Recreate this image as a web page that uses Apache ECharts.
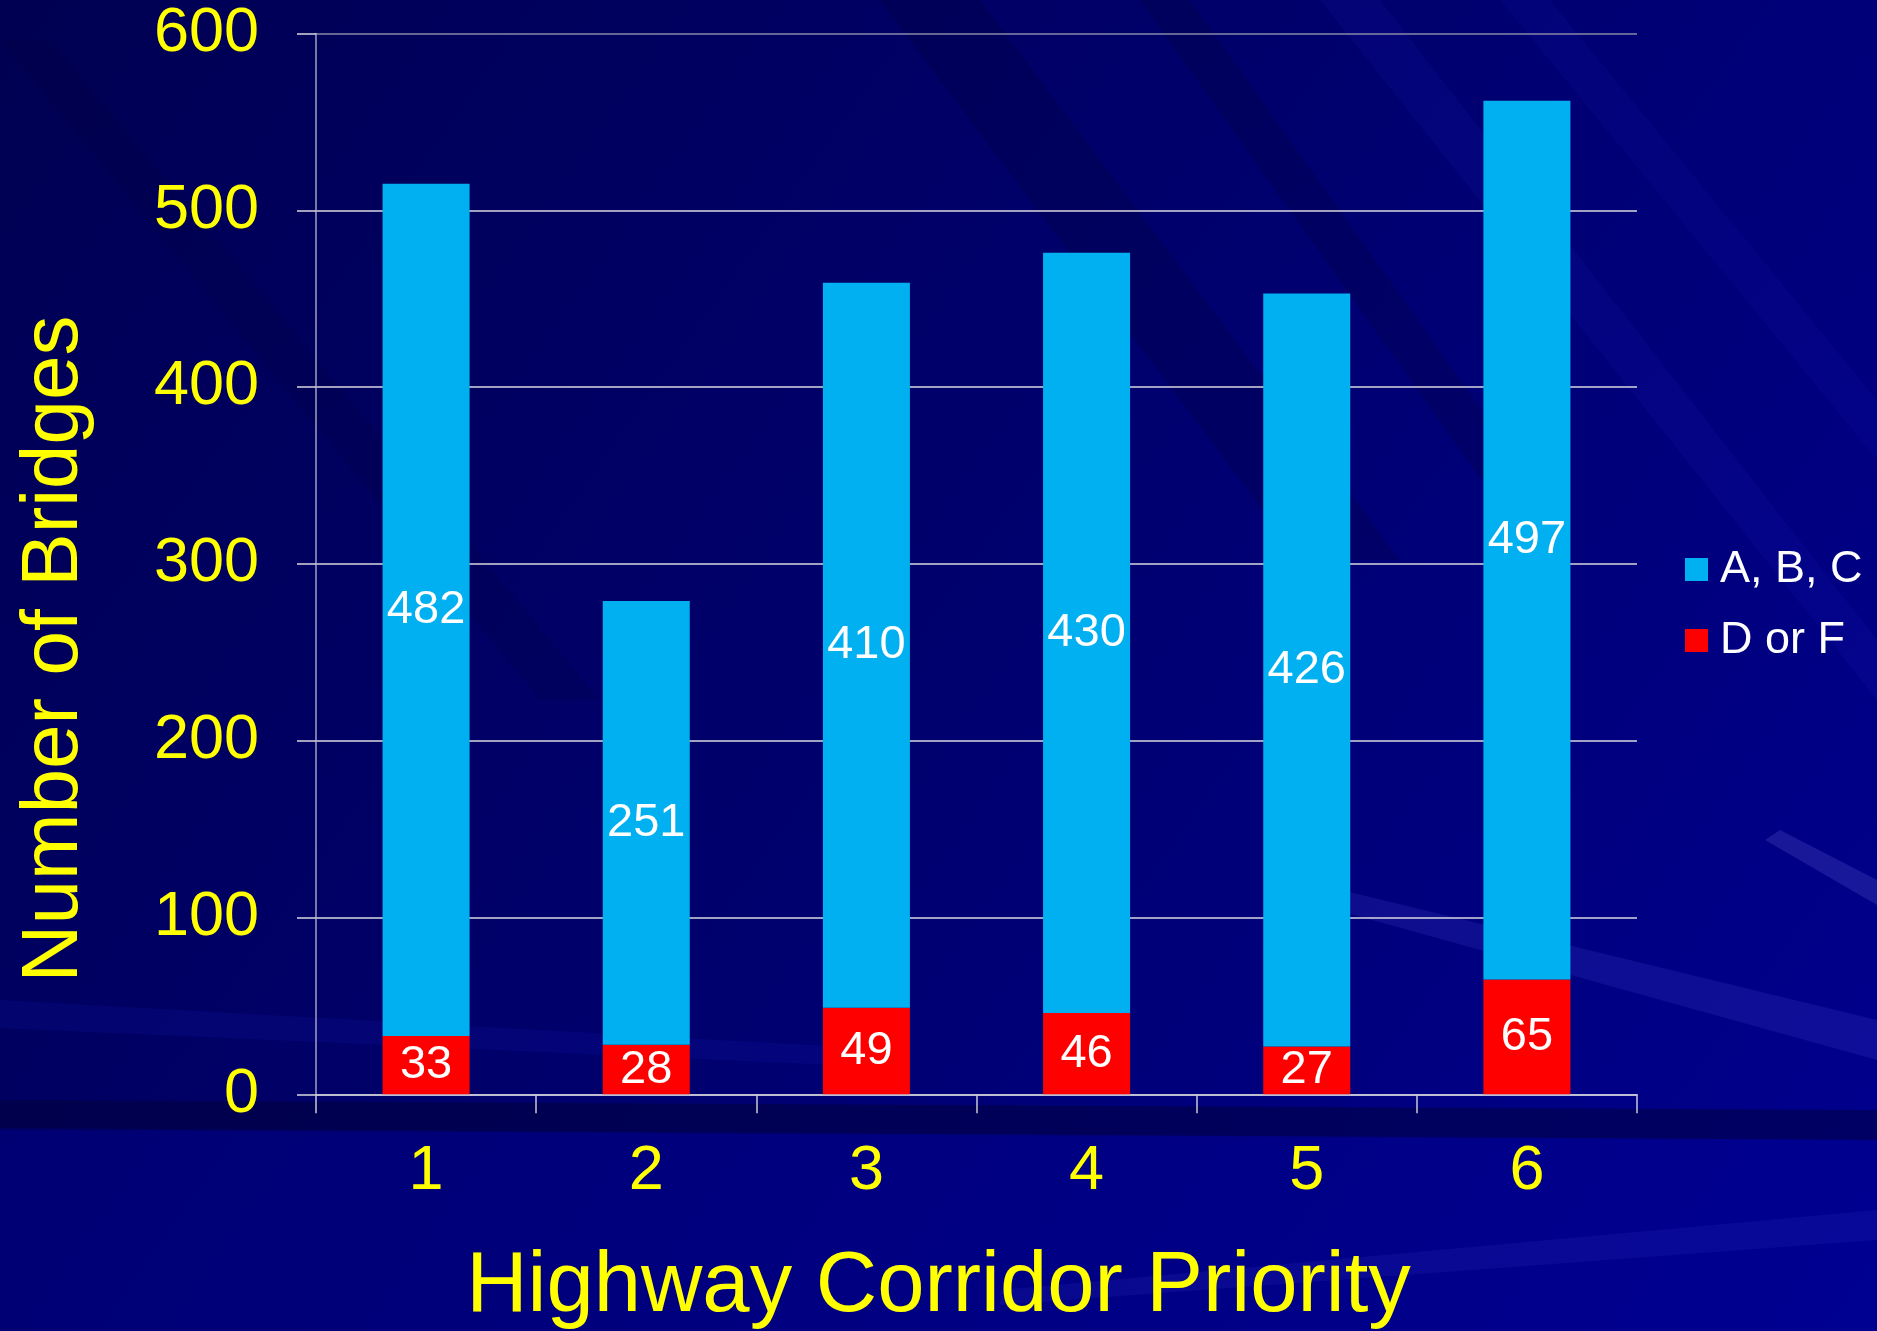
<!DOCTYPE html>
<html>
<head>
<meta charset="utf-8">
<script src="https://cdn.jsdelivr.net/npm/echarts@6/dist/echarts.min.js"></script>
<style>
  html, body { margin: 0; padding: 0; background: #000070; }
  #chart { width: 1877px; height: 1331px; }
</style>
</head>
<body>
<div id="chart"></div>
<script>
// 数据
const categories = ['1', '2', '3', '4', '5', '6']
const seriesNames = ['A, B, C', 'D or F']
const gradeABC = [482, 251, 410, 430, 426, 497]
const gradeDF = [33, 28, 49, 46, 27, 65]
const yTicks = { min: 0, max: 600, interval: 100 }

const FONT = "'Liberation Sans', Arial, sans-serif"

// 背景条纹 (decoration only)
function stripe(points, fill) {
  return {
    type: 'polygon',
    silent: true,
    z: -10,
    shape: { points: points },
    style: { fill: fill },
  }
}

;(function () {
  bridgeChart()
})()

function bridgeChart() {
  let chart = echarts.init(document.getElementById('chart'))
  let option = {
    backgroundColor: new echarts.graphic.LinearGradient(0, 0, 1, 1, [
      { offset: 0, color: '#000052' },
      { offset: 0.5, color: '#00006e' },
      { offset: 1, color: '#000090' },
    ]),
    graphic: [
      // dark diagonal streaks at top
      stripe([[880, 0], [980, 0], [1400, 560], [1300, 560]], 'rgba(0,0,40,0.18)'),
      stripe([[0, 40], [50, 40], [600, 700], [540, 700]], 'rgba(0,0,40,0.12)'),
      stripe([[1140, 0], [1190, 0], [1560, 520], [1510, 520]], 'rgba(0,0,40,0.18)'),
      // lighter streaks
      stripe([[1320, 0], [1380, 0], [1877, 640], [1877, 700]], 'rgba(30,30,200,0.12)'),
      stripe([[1500, 0], [1550, 0], [1877, 400], [1877, 460]], 'rgba(30,30,200,0.1)'),
      stripe([[1300, 880], [1877, 1020], [1877, 1060], [1300, 900]], 'rgba(80,80,220,0.18)'),
      stripe([[1780, 830], [1877, 880], [1877, 905], [1765, 840]], 'rgba(120,120,230,0.2)'),
      stripe([[0, 1000], [900, 1050], [900, 1068], [0, 1028]], 'rgba(20,20,180,0.18)'),
      // dark band under the axis
      stripe([[0, 1100], [1877, 1110], [1877, 1140], [0, 1128]], 'rgba(0,0,50,0.45)'),
      // lighter lower area
      stripe([[0, 1130], [1877, 1140], [1877, 1331], [0, 1331]], 'rgba(0,0,150,0.35)'),
      stripe([[1000, 1290], [1877, 1210], [1877, 1240], [1000, 1305]], 'rgba(60,60,210,0.15)'),
    ],
    grid: {
      left: 316,
      right: 240,
      top: 33.5,
      bottom: 236.7,
      containLabel: false,
      outerBoundsMode: 'none',
    },
    legend: {
      data: seriesNames,
      orient: 'vertical',
      left: 1680,
      top: 542,
      itemWidth: 23,
      itemHeight: 23,
      itemGap: 26,
      icon: 'rect',
      textStyle: {
        color: '#ffffff',
        fontSize: 45,
        fontFamily: FONT,
        padding: [0, 0, 0, 7],
      },
    },
    xAxis: {
      type: 'category',
      data: categories,
      name: 'Highway Corridor Priority',
      nameLocation: 'middle',
      nameGap: 151,
      nameTextStyle: {
        color: '#ffff00',
        fontSize: 85,
        fontFamily: FONT,
        padding: [0, 76, 0, 0],
      },
      axisLine: { lineStyle: { color: '#c8c8d8', width: 1.5 } },
      axisTick: {
        show: true,
        length: 19,
        alignWithLabel: false,
        lineStyle: { color: '#c8c8d8', width: 1.5 },
      },
      axisLabel: {
        margin: 46,
        color: '#ffff00',
        fontSize: 63,
        fontFamily: FONT,
      },
      splitLine: { show: false },
    },
    yAxis: {
      type: 'value',
      min: yTicks.min,
      max: yTicks.max,
      interval: yTicks.interval,
      name: 'Number of Bridges',
      nameLocation: 'middle',
      nameRotate: 90,
      nameGap: 221,
      nameTextStyle: {
        color: '#ffff00',
        fontSize: 80,
        fontFamily: FONT,
        padding: [0, 170, 0, 0],
      },
      axisLine: { show: true, lineStyle: { color: '#a0a0c0', width: 1.5 } },
      axisTick: {
        show: true,
        length: 19,
        lineStyle: { color: '#d8d8e0', width: 1.5 },
      },
      axisLabel: {
        margin: 57,
        color: '#ffff00',
        fontSize: 63,
        fontFamily: FONT,
      },
      splitLine: {
        show: true,
        lineStyle: {
          color: ['#d8d8e0', '#d8d8e0', '#d8d8e0', '#d8d8e0', '#d8d8e0', '#d8d8e0', '#8888a8'],
          width: 1.5,
        },
      },
    },
    series: [
      {
        name: seriesNames[1],
        type: 'bar',
        stack: 'total',
        data: gradeDF,
        barWidth: 87,
        itemStyle: { color: '#ff0000' },
        label: {
          show: true,
          position: 'inside',
          color: '#ffffff',
          fontSize: 47,
          fontFamily: FONT,
        },
      },
      {
        name: seriesNames[0],
        type: 'bar',
        stack: 'total',
        data: gradeABC,
        barWidth: 87,
        itemStyle: { color: '#00b0f0' },
        label: {
          show: true,
          position: 'inside',
          color: '#ffffff',
          fontSize: 47,
          fontFamily: FONT,
        },
      },
    ],
  }
  chart.setOption(option)
}
</script>
</body>
</html>
